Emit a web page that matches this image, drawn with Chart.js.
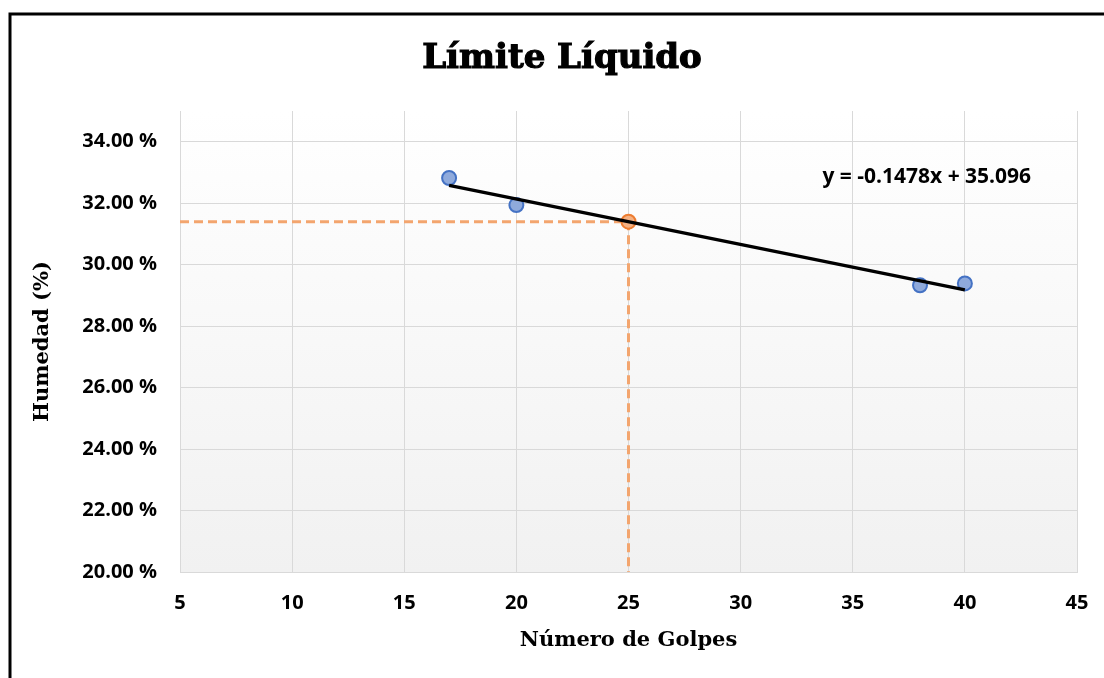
<!DOCTYPE html>
<html>
<head>
<meta charset="utf-8">
<script src="https://cdn.jsdelivr.net/npm/chart.js@4/dist/chart.umd.min.js"></script>
<style>
  html, body { margin: 0; padding: 0; background: #fff; }
  #wrap { width: 1104px; height: 678px; }
</style>
</head>
<body>
<div id="wrap"><canvas id="limite" width="1104" height="678"></canvas></div>
<script>
// Data
const golpes = [17, 20, 38, 40]
const humedad = [32.82, 31.94, 29.33, 29.39]
const trendX = [17, 40]
const trendY = [32.58, 29.18]
const llGolpes = 25
const llHumedad = 31.40
const titulo = 'Límite Líquido'
const ecuacion = 'y = -0.1478x + 35.096'
const ecuacionPos = {x: 38.3, y: 32.85}

const SLAB = '"DejaVu Serif", serif'
const SANS = '"Open Sans", sans-serif'

// plot background gradient + outer frame
const fondo = {
    id: 'fondo',
    beforeDraw(chart) {
        const {ctx, chartArea: a} = chart
        ctx.save()
        const g = ctx.createLinearGradient(0, a.top, 0, a.bottom)
        g.addColorStop(0, '#ffffff')
        g.addColorStop(1, '#f1f1f1')
        ctx.fillStyle = g
        ctx.fillRect(a.left, a.top, a.right - a.left, a.bottom - a.top)
        ctx.strokeStyle = '#000'
        ctx.lineWidth = 3
        ctx.beginPath()
        ctx.moveTo(10, 678)
        ctx.lineTo(10, 14)
        ctx.lineTo(1104, 14)
        ctx.stroke()
        ctx.restore()
    }
}

// chart title (centred on the whole excel chart, not the canvas) + equation text
const textos = {
    id: 'textos',
    afterDatasetsDraw(chart) {
        const {ctx, scales} = chart
        ctx.save()
        ctx.fillStyle = '#000'
        ctx.strokeStyle = '#000'
        ctx.textAlign = 'center'
        ctx.textBaseline = 'alphabetic'
        ctx.font = 'bold 34px ' + SLAB
        ctx.lineWidth = 1.2
        ctx.fillText(titulo, 562, 68)
        ctx.strokeText(titulo, 562, 68)

        ctx.font = 'bold 21px ' + SANS
        ctx.textBaseline = 'middle'
        ctx.fillText(ecuacion, scales.x.getPixelForValue(ecuacionPos.x), scales.y.getPixelForValue(ecuacionPos.y))
        ctx.restore()
    }
}

const config = {
    type: 'scatter',
    data: {
        datasets: [
            {
                data: trendX.map((x, i) => ({x: x, y: trendY[i]})),
                showLine: true,
                borderColor: '#000',
                borderWidth: 3.5,
                pointRadius: 0,
                order: 0
            },
            {
                data: golpes.map((x, i) => ({x: x, y: humedad[i]})),
                backgroundColor: '#8faadc',
                borderColor: '#4472c4',
                borderWidth: 2,
                pointRadius: 7,
                order: 1
            },
            {
                data: [{x: llGolpes, y: llHumedad}],
                backgroundColor: '#f4b183',
                borderColor: '#ed7d31',
                borderWidth: 2,
                pointRadius: 7,
                order: 2
            },
            {
                data: [{x: 5, y: llHumedad}, {x: llGolpes, y: llHumedad}, {x: llGolpes, y: 20}],
                showLine: true,
                borderColor: '#f3a56e',
                borderWidth: 3,
                borderDash: [9, 5],
                pointRadius: 0,
                order: 3
            }
        ]
    },
    options: {
        responsive: false,
        animation: false,
        layout: {padding: {left: 0, right: 27, top: 111, bottom: 0}},
        plugins: {
            legend: {display: false},
            tooltip: {enabled: false},
            title: {display: false}
        },
        scales: {
            x: {
                type: 'linear',
                min: 5,
                max: 45,
                ticks: {stepSize: 5, color: '#000', padding: 19, font: {family: SANS, size: 20, weight: 'bold'}},
                grid: {color: '#d9d9d9', drawTicks: false},
                border: {color: '#d9d9d9'},
                title: {
                    display: true,
                    text: 'Número de Golpes',
                    color: '#000',
                    font: {family: SLAB, size: 21, weight: 'bold'},
                    padding: {top: 0, bottom: 25}
                },
                afterFit(scale) {
                    scale.height = 106
                    scale.paddingLeft = 0
                    scale.paddingRight = 0
                }
            },
            y: {
                type: 'linear',
                min: 20,
                max: 35,
                afterBuildTicks(scale) { scale.ticks = scale.ticks.filter(t => t.value <= 34) },
                ticks: {
                    stepSize: 2,
                    color: '#000',
                    padding: 23,
                    font: {family: SANS, size: 20, weight: 'bold'},
                    callback: v => v.toFixed(2) + ' %'
                },
                grid: {color: '#d9d9d9', drawTicks: false},
                border: {display: false},
                title: {
                    display: true,
                    text: 'Humedad (%)',
                    color: '#000',
                    font: {family: SLAB, size: 21, weight: 'bold'},
                    padding: {top: 30, bottom: 0}
                },
                afterFit(scale) { scale.width = 180 }
            }
        }
    },
    plugins: [fondo, textos]
}

const myChart = new Chart(document.getElementById('limite'), config)
</script>
</body>
</html>
